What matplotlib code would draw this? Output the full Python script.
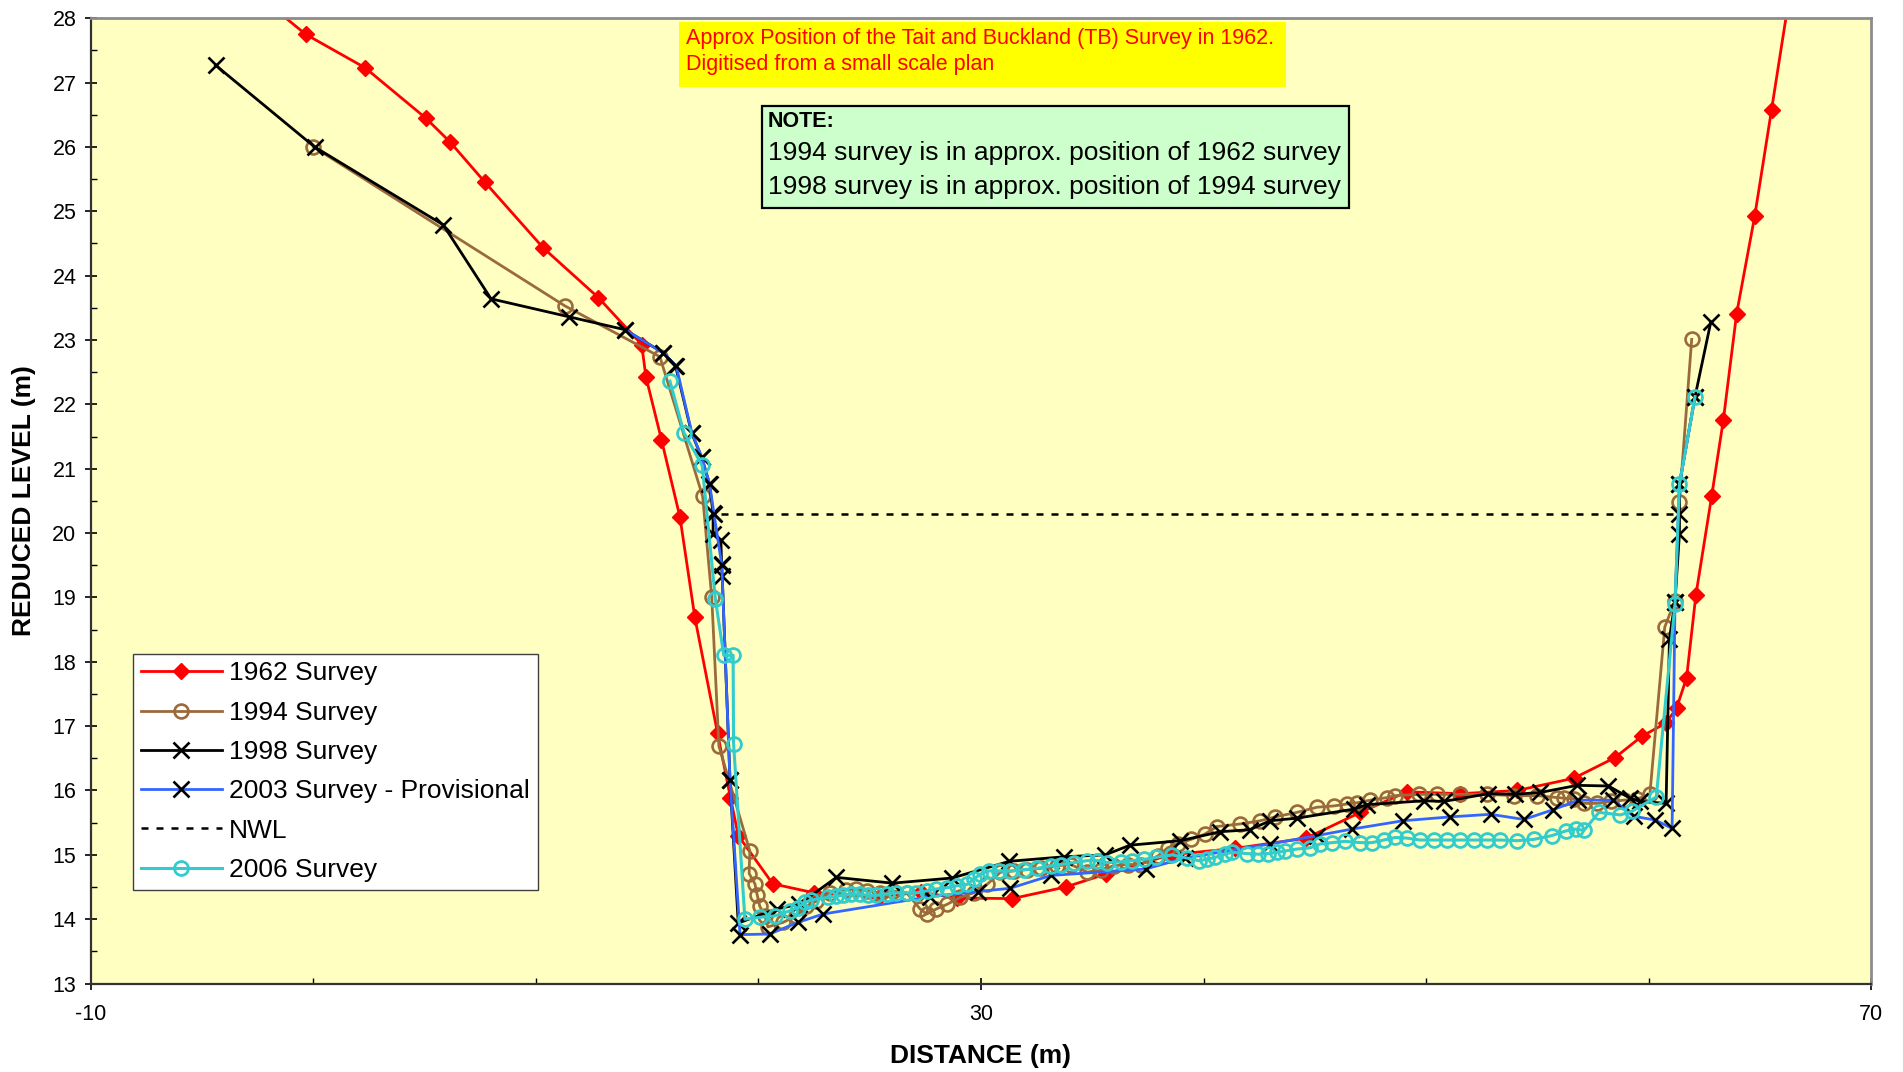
import matplotlib
matplotlib.use('Agg')
import matplotlib.pyplot as plt
from matplotlib.patches import Rectangle
from matplotlib.ticker import MultipleLocator

plt.rcParams['font.family'] = ['Liberation Sans', 'DejaVu Sans']
plt.rcParams['axes.unicode_minus'] = False

# Survey data (distance m, reduced level m)

s1962_x = [-3.0, -0.35, 2.32, 5.04, 6.13, 7.71, 10.33, 12.8, 14.75, 14.94, 15.64, 16.47,
           17.14, 18.16, 18.74, 19.09, 20.64, 22.5, 25.4, 27.3, 28.9, 31.4, 33.8, 35.6,
           38.5, 41.42, 44.62, 47.05, 49.15, 51.54, 54.09, 56.64, 58.49, 59.69, 60.79,
           61.26, 61.71, 62.13, 62.84, 63.36, 63.96, 64.77, 65.53, 66.4]
s1962_y = [28.5, 27.75, 27.23, 26.45, 26.08, 25.45, 24.43, 23.66, 22.93, 22.43, 21.45, 20.25,
           18.69, 16.89, 15.89, 15.30, 14.55, 14.41, 14.35, 14.42, 14.33, 14.32, 14.50, 14.70,
           15.00, 15.10, 15.26, 15.66, 15.98, 15.95, 16.00, 16.19, 16.51, 16.84, 17.05,
           17.28, 17.75, 19.04, 20.58, 21.75, 23.41, 24.92, 26.58, 28.5]

s1994_x = [0.0, 11.3, 15.57, 17.49, 17.9, 18.22, 19.61, 19.58, 19.84, 19.94, 20.06, 20.29,
           20.42, 21.1, 21.7, 22.15, 22.6, 23.2, 23.95, 24.4, 24.86, 25.46, 26.06, 26.66,
           27.26, 27.56, 28.0, 28.47, 29.07, 29.67, 30.27, 30.87, 31.47, 32.07, 32.68,
           33.43, 34.03, 34.78, 35.38, 35.98, 36.59, 37.19, 37.94, 38.39, 38.84, 39.44,
           40.05, 40.6, 41.65, 42.55, 43.22, 44.2, 45.1, 45.85, 46.45, 46.9, 47.5, 48.25,
           48.62, 49.67, 50.5, 51.54, 52.74, 53.94, 54.99, 55.9, 56.2, 56.64, 57.1, 57.7,
           58.3, 58.9, 59.5, 60.06, 60.73, 61.19, 61.39, 61.94]
s1994_y = [26.0, 23.53, 22.74, 20.57, 19.0, 16.69, 15.06, 14.71, 14.55, 14.38, 14.2, 14.05,
           13.88, 13.95, 14.05, 14.2, 14.28, 14.41, 14.46, 14.47, 14.44, 14.41, 14.44, 14.41,
           14.16, 14.08, 14.16, 14.23, 14.34, 14.41, 14.54, 14.73, 14.75, 14.77, 14.79,
           14.83, 14.85, 14.73, 14.77, 14.83, 14.85, 14.85, 14.98, 15.11, 15.17, 15.24,
           15.32, 15.44, 15.48, 15.53, 15.59, 15.66, 15.74, 15.76, 15.79, 15.81, 15.85, 15.89,
           15.92, 15.94, 15.94, 15.94, 15.94, 15.92, 15.92, 15.89, 15.88, 15.87, 15.8, 15.8,
           15.83, 15.85, 15.87, 15.94, 18.54, 18.95, 20.49, 23.01]

s1998_x = [-4.4, 0.05, 5.83, 7.98, 11.49, 14.0, 15.72, 16.27, 16.99, 17.44, 17.79, 17.96,
           17.96, 18.31, 18.34, 18.37, 18.72, 19.09, 20.83, 21.82, 23.5, 26.02, 28.7, 31.28,
           33.74, 35.58, 36.7, 38.96, 40.76, 42.07, 43.0, 44.2, 46.75, 47.35, 49.9, 50.8,
           52.8, 54.0, 55.14, 56.8, 58.2, 59.17, 59.62, 60.79, 60.94, 61.19, 61.39, 61.39,
           61.39, 62.09, 62.8]
s1998_y = [27.27, 26.0, 24.79, 23.64, 23.36, 23.16, 22.8, 22.6, 21.56, 21.18, 20.77, 20.31,
           19.98, 19.89, 19.52, 19.33, 16.16, 13.94, 14.16, 14.23, 14.65, 14.56, 14.64, 14.9,
           14.97, 15.0, 15.15, 15.22, 15.36, 15.39, 15.53, 15.57, 15.71, 15.78, 15.84, 15.83,
           15.95, 15.94, 15.97, 16.08, 16.07, 15.88, 15.83, 15.8, 18.36, 18.93, 19.99, 20.3,
           20.76, 22.12, 23.28]

s2003_x = [14.0, 15.72, 16.3, 17.0, 17.45, 17.8, 18.0, 18.35, 18.72, 19.17, 20.5, 21.77,
           22.9, 27.7, 29.85, 31.3, 33.15, 37.4, 39.15, 43.0, 45.1, 46.67, 48.97, 51.1,
           52.9, 54.4, 55.7, 56.85, 58.42, 59.33, 60.31, 61.06, 61.19, 61.39, 62.09]
s2003_y = [23.16, 22.8, 22.6, 21.56, 21.18, 20.77, 20.3, 19.5, 16.16, 13.76, 13.77, 13.95,
           14.08, 14.35, 14.43, 14.48, 14.68, 14.78, 14.95, 15.17, 15.3, 15.4, 15.53, 15.59,
           15.63, 15.55, 15.7, 15.85, 15.85, 15.6, 15.54, 15.41, 18.93, 20.76, 22.12]

nwl_x = [18.3, 61.1]
nwl_y = [20.3, 20.3]

s2006_x = [16.02, 16.65, 17.47, 18.06, 18.44, 18.86, 18.88, 19.39, 20.05, 20.72, 21.4, 21.77,
           22.07, 22.38, 23.13, 23.5, 23.8, 24.18, 24.56, 24.93, 25.3, 25.76, 26.2, 26.66,
           27.1, 27.56, 28.0, 28.47, 28.92, 29.37, 29.67, 29.97, 30.35, 30.8, 31.32, 31.92,
           32.53, 33.13, 33.58, 34.18, 34.78, 35.23, 35.68, 36.29, 36.8, 37.34, 37.86, 38.6,
           39.25, 39.78, 40.15, 40.52, 40.97, 41.27, 41.95, 42.47, 42.92, 43.3, 43.67, 44.2,
           44.8, 45.25, 45.77, 46.37, 47.05, 47.57, 48.1, 48.62, 49.15, 49.75, 50.34, 50.94,
           51.54, 52.14, 52.74, 53.34, 54.09, 54.84, 55.67, 56.27, 56.72, 57.1, 57.77, 58.74,
           59.27, 60.35, 61.19, 61.39, 62.09]
s2006_y = [22.36, 21.56, 21.05, 18.98, 18.1, 18.1, 16.73, 14.0, 14.03, 14.05, 14.13, 14.18,
           14.26, 14.3, 14.34, 14.36, 14.37, 14.39, 14.39, 14.37, 14.37, 14.39, 14.41, 14.41,
           14.41, 14.44, 14.47, 14.49, 14.52, 14.54, 14.62, 14.7, 14.75, 14.75, 14.75, 14.77,
           14.79, 14.83, 14.85, 14.88, 14.91, 14.91, 14.88, 14.89, 14.91, 14.93, 14.96, 15.0,
           14.95, 14.91, 14.93, 14.96, 15.01, 15.04, 15.02, 15.01, 15.02, 15.04, 15.06, 15.09,
           15.11, 15.17, 15.19, 15.21, 15.19, 15.19, 15.23, 15.27, 15.26, 15.23, 15.23, 15.23,
           15.23, 15.23, 15.23, 15.23, 15.22, 15.24, 15.3, 15.37, 15.4, 15.38, 15.66, 15.62,
           15.68, 15.9, 18.9, 20.76, 22.12]

x_major = [-10, 30, 70]

fig = plt.figure(figsize=(19.03, 10.72), dpi=100)
ax = fig.add_axes([0.0478, 0.0825, 0.9354, 0.9005])
ax.set_facecolor('#FFFFC2')

ax.plot(s1962_x, s1962_y, color='#FF0000', lw=2.0, marker='D', ms=8.5,
        mfc='#FF0000', mec='#FF0000', label='1962 Survey')
ax.plot(s1994_x, s1994_y, color='#9B6A3C', lw=2.0, marker='o', ms=10,
        mfc='none', mec='#9B6A3C', mew=1.9, label='1994 Survey')
ax.plot(s1998_x, s1998_y, color='black', lw=2.0, marker='x', ms=11.5,
        mew=1.9, label='1998 Survey')
ax.plot(s2003_x, s2003_y, color='#3366FF', lw=2.0, marker='x', ms=11.5,
        mec='black', mew=1.9, label='2003 Survey - Provisional')
ax.plot(nwl_x, nwl_y, color='black', lw=1.8, dashes=(2.8, 3.2), label='NWL')
ax.plot(s2006_x, s2006_y, color='#33CCCC', lw=2.2, marker='o', ms=10,
        mfc='none', mec='#33CCCC', mew=2.0, label='2006 Survey')

ax.set_xlim(-10, 70)
ax.set_ylim(13, 28)
ax.set_xticks(x_major)
ax.xaxis.set_minor_locator(MultipleLocator(10))
ax.yaxis.set_major_locator(MultipleLocator(1))
ax.yaxis.set_minor_locator(MultipleLocator(0.5))
ax.tick_params(which='major', direction='inout', length=9, width=1.2,
               labelsize=15.5, colors='black')
ax.tick_params(axis='y', which='major', pad=6)
ax.tick_params(axis='x', which='major', pad=10)
ax.tick_params(which='minor', direction='in', length=4, width=1.0)

for side in ['left', 'bottom']:
    ax.spines[side].set_color('#333333')
    ax.spines[side].set_linewidth(1.6)
for side in ['top', 'right']:
    ax.spines[side].set_color('#8C8C8C')
    ax.spines[side].set_linewidth(2.0)

ax.set_xlabel('DISTANCE (m)', fontsize=19, fontweight='bold', va='center')
ax.xaxis.set_label_coords(0.5, -0.075)
ax.set_ylabel('REDUCED LEVEL (m)', fontsize=19, fontweight='bold', va='center')
ax.yaxis.set_label_coords(-0.0376, 0.5)

leg = ax.legend(loc='lower left', bbox_to_anchor=(0.0234, 0.097), borderaxespad=0,
                fontsize=19, fancybox=False, framealpha=1, edgecolor='#404040',
                handlelength=3.1, handletextpad=0.25, labelspacing=0.58,
                borderpad=0.3)
leg.get_frame().set_linewidth(1.0)

# annotation boxes
ax.add_patch(Rectangle((0.3303, 0.9291), 0.341, 0.0668, transform=ax.transAxes,
                       facecolor='#FFFF00', edgecolor='none', zorder=5))
ax.text(0.334, 0.9793, 'Approx Position of the Tait and Buckland (TB) Survey in 1962.',
        transform=ax.transAxes, fontsize=15.5, color='#FF0000', va='center', zorder=6)
ax.text(0.334, 0.9516, 'Digitised from a small scale plan',
        transform=ax.transAxes, fontsize=15.5, color='#FF0000', va='center', zorder=6)

ax.add_patch(Rectangle((0.377, 0.8038), 0.3297, 0.1057, transform=ax.transAxes,
                       facecolor='#CCFFCC', edgecolor='black', lw=1.6, zorder=5))
ax.text(0.3804, 0.8929, 'NOTE:', transform=ax.transAxes, fontsize=15.5,
        fontweight='bold', va='center', zorder=6)
ax.text(0.3804, 0.8601, '1994 survey is in approx. position of 1962 survey',
        transform=ax.transAxes, fontsize=19, va='center', zorder=6)
ax.text(0.3804, 0.8255, '1998 survey is in approx. position of 1994 survey',
        transform=ax.transAxes, fontsize=19, va='center', zorder=6)

fig.savefig('out.png', dpi=100)
